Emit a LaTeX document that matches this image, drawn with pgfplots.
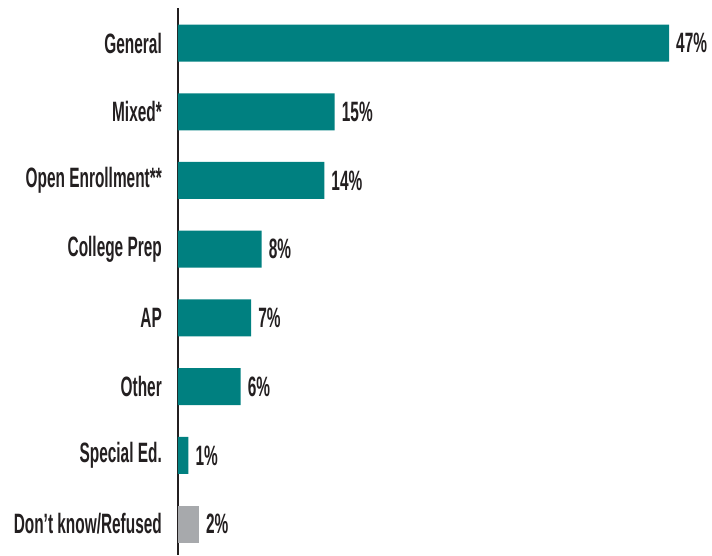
\documentclass[border=0pt]{standalone}
\usepackage{pgfplots}
\pgfplotsset{compat=1.18}
\usepackage{fontspec}
\setmainfont{Liberation Sans}[FakeStretch=0.55]
\definecolor{barteal}{RGB}{0,128,128}
\definecolor{bargray}{RGB}{167,169,172}
\definecolor{textdark}{RGB}{35,31,32}

\begin{document}
\begin{tikzpicture}
\begin{axis}[
    xbar, scale only axis,
    width=491pt, height=547pt,
    xmin=0, xmax=47,
    ymin=-0.51, ymax=7.45,
    y dir=reverse,
    axis x line=none,
    axis y line*=left,
    y axis line style={-, line width=1.8pt, color=textdark},
    ytick={0,...,7},
    yticklabels={General, Mixed*, Open Enrollment**, College Prep, AP, Other, Special Ed., Don't know/Refused},
    major tick length=0pt,
    yticklabel style={font=\fontsize{28}{28}\selectfont\bfseries, text=textdark, inner sep=0pt, xshift=-16pt},
    bar width=37pt, bar shift=0pt,
    point meta=x,
    nodes near coords={\pgfmathprintnumber{\pgfplotspointmeta}\%},
    nodes near coords style={font=\fontsize{28}{28}\selectfont\bfseries, text=textdark, anchor=west, inner sep=0pt, xshift=7pt,
        /pgf/number format/assume math mode=true},
    clip=false,
]
% teal bars
\addplot[fill=barteal, draw=none] coordinates {(47,0) (15,1) (14,2) (8,3) (7,4) (6,5) (1,6)};
% gray bar
\addplot[fill=bargray, draw=none] coordinates {(2,7)};
\end{axis}
\pgfresetboundingbox
\path (current axis.south west) ++(-178pt,0pt) rectangle ++(712pt,555pt);
\end{tikzpicture}
\end{document}
